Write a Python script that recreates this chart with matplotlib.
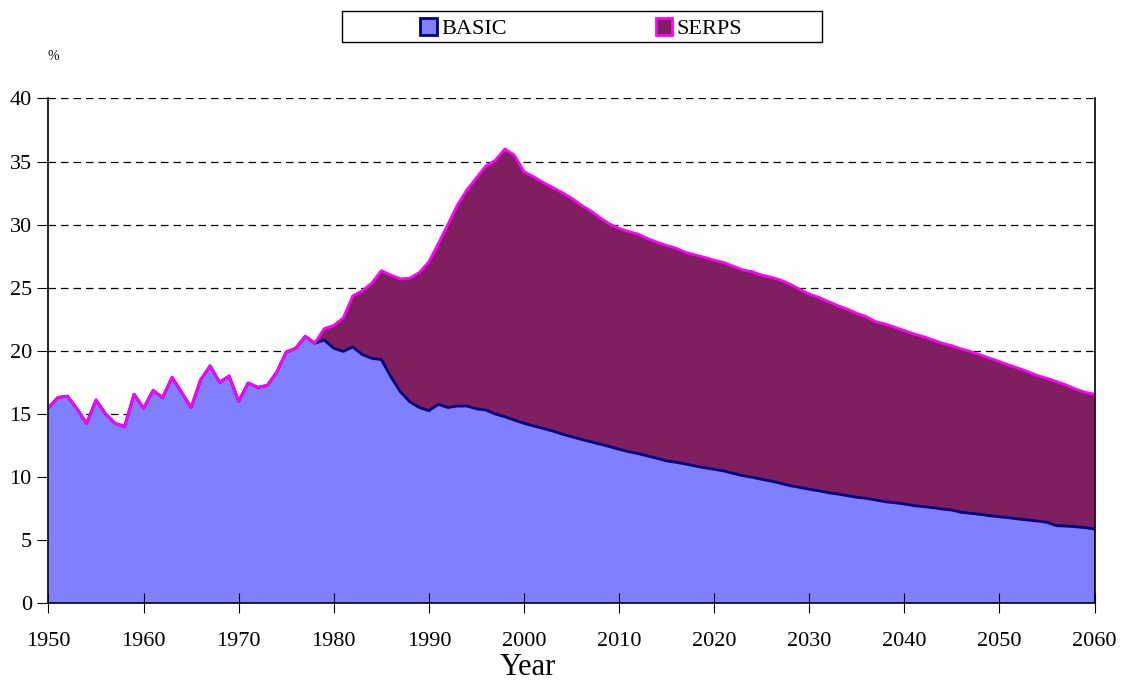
import matplotlib.pyplot as plt
from matplotlib.patches import Rectangle, Patch
import numpy as np

plt.rcParams['font.family'] = ['Liberation Serif', 'DejaVu Serif']

# years 1950..2060
years = list(range(1950, 2061))

basic = [15.5, 16.3, 16.4, 15.4, 14.25, 16.1, 15.0, 14.25, 14.0, 16.55,
         15.45, 16.85, 16.3, 17.9, 16.7, 15.5, 17.7, 18.8, 17.5, 18.0,
         16.0, 17.45, 17.1, 17.25, 18.3, 19.9, 20.2, 21.15, 20.6, 20.85,
         20.2, 19.95, 20.3, 19.7, 19.4, 19.3, 17.95, 16.75, 15.95, 15.5,
         15.25, 15.75, 15.5, 15.62, 15.62, 15.4, 15.3, 14.98, 14.77, 14.5,
         14.25, 14.04, 13.85, 13.64, 13.4, 13.19, 12.98, 12.79, 12.6, 12.4,
         12.19, 12.0, 11.85, 11.66, 11.47, 11.27, 11.16, 11.02, 10.86, 10.73,
         10.6, 10.47, 10.28, 10.1, 9.97, 9.81, 9.67, 9.49, 9.3, 9.17,
         9.02, 8.9, 8.75, 8.64, 8.51, 8.38, 8.3, 8.17, 8.03, 7.95,
         7.85, 7.72, 7.64, 7.56, 7.45, 7.37, 7.19, 7.11, 7.03, 6.92,
         6.84, 6.76, 6.66, 6.58, 6.5, 6.4, 6.13, 6.1, 6.05, 5.97,
         5.87]

serps = [0, 0, 0, 0, 0, 0, 0, 0, 0, 0,
         0, 0, 0, 0, 0, 0, 0, 0, 0, 0,
         0, 0, 0, 0, 0, 0, 0, 0, 0, 0.9,
         1.8, 2.65, 4.05, 5.05, 5.95, 7.05, 8.05, 8.95, 9.8, 10.7,
         11.8, 12.75, 14.5, 15.93, 17.13, 18.3, 19.35, 20.12, 21.23, 21.0,
         19.95, 19.76, 19.5, 19.31, 19.15, 18.91, 18.57, 18.31, 17.95, 17.65,
         17.51, 17.45, 17.4, 17.24, 17.13, 17.08, 16.97, 16.78, 16.74, 16.67,
         16.58, 16.52, 16.42, 16.31, 16.3, 16.19, 16.16, 16.11, 15.97, 15.7,
         15.48, 15.34, 15.15, 14.94, 14.79, 14.59, 14.4, 14.13, 14.09, 13.91,
         13.75, 13.61, 13.48, 13.3, 13.14, 13.03, 12.95, 12.82, 12.64, 12.48,
         12.3, 12.11, 11.95, 11.76, 11.53, 11.42, 11.42, 11.19, 10.92, 10.74,
         10.68]

yticks = [0, 5, 10, 15, 20, 25, 30, 35, 40]
xticks = list(range(1950, 2061, 10))

fig = plt.figure(figsize=(11.25, 6.84), dpi=100)
ax = fig.add_axes([0.0431, 0.1184, 0.9298, 0.7376])

basic_col = '#8080ff'
serps_col = '#7f1f5f'
basic_edge = '#000080'
serps_edge = '#ff00ff'

ax.stackplot(years, basic, serps, colors=[basic_col, serps_col], linewidth=0)
total = np.array(basic) + np.array(serps)

# outlines: basic first, total on top (covers basic where serps is 0)
ax.plot(years, basic, color=basic_edge, linewidth=2, zorder=3)
ax.plot([years[-1], years[-1]], [0, basic[-1]], color=basic_edge, linewidth=2, zorder=3)
ax.plot(years, total, color=serps_edge, linewidth=2, zorder=4)
ax.plot([years[-1], years[-1]], [basic[-1], total[-1]], color=serps_edge, linewidth=2, zorder=4)

ax.set_xlim(1950, 2060)
ax.set_ylim(0, 40)
ax.set_xticks(xticks)
ax.set_yticks(yticks)
ax.tick_params(axis='x', direction='inout', length=14, labelsize=16, pad=14)
ax.tick_params(axis='y', direction='out', length=8, labelsize=16, pad=4)
for y in yticks[1:]:
    ax.axhline(y, color='black', linestyle=(0, (6, 4)), linewidth=0.9, zorder=0)
ax.spines['top'].set_visible(False)
for s in ['left', 'bottom', 'right']:
    ax.spines[s].set_linewidth(1.2)
    ax.spines[s].set_zorder(5)

fig.text(0.469, 0.0125, 'Year', fontsize=22, ha='center', va='baseline')
fig.text(0.047, 0.908, '%', fontsize=10, ha='center', va='bottom')

# legend box
fig.patches.append(Rectangle((0.304, 0.938), 0.4267, 0.046, transform=fig.transFigure,
                             fill=False, edgecolor='black', linewidth=1))
handles = [Patch(facecolor=basic_col, edgecolor=basic_edge, linewidth=2),
           Patch(facecolor=serps_col, edgecolor=serps_edge, linewidth=2)]
fig.legend(handles, ['BASIC', 'SERPS'], loc='center', bbox_to_anchor=(0.5165, 0.958),
           ncol=2, frameon=False, fontsize=16, handlelength=0.75, handleheight=0.75,
           handletextpad=0.2, columnspacing=6.7)

fig.savefig('out.png', dpi=100)
